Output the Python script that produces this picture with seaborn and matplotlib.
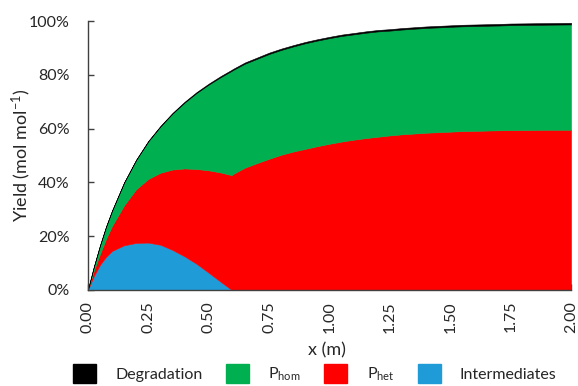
import matplotlib
matplotlib.use("Agg")
import matplotlib.pyplot as plt
import seaborn as sns
import pandas as pd
from matplotlib.ticker import PercentFormatter, MultipleLocator, FormatStrFormatter
from matplotlib.patches import Patch

# Reactor length positions (m)
x_m = [0.00, 0.025, 0.05, 0.075, 0.10, 0.15, 0.20, 0.25, 0.30, 0.35, 0.40, 0.45, 0.50, 0.55, 0.595,
       0.60, 0.65, 0.70, 0.75, 0.80, 0.85, 0.90, 0.95, 1.00, 1.05, 1.10, 1.15, 1.20,
       1.25, 1.30, 1.35, 1.40, 1.45, 1.50, 1.55, 1.60, 1.65, 1.70, 1.75, 1.80, 1.85,
       1.90, 1.95, 2.00]

# Yields (%) of each product group along the reactor
intermediates = [0, 5.2, 9.3, 12.3, 14.5, 16.6, 17.5, 17.6, 16.8, 14.9, 12.5, 9.7, 6.4, 3.0, 0,
                 0, 0, 0, 0, 0, 0, 0, 0, 0, 0, 0, 0, 0,
                 0, 0, 0, 0, 0, 0, 0, 0, 0, 0, 0, 0, 0,
                 0, 0, 0]
p_het = [0, 2.0, 4.0, 6.7, 9.3, 14.9, 20.0, 23.7, 26.8, 29.9, 32.7, 35.3, 38.1, 40.7, 42.7,
         43.1, 45.5, 47.2, 48.8, 50.3, 51.5, 52.5, 53.5, 54.4, 55.2, 55.9, 56.5, 57.0,
         57.5, 57.9, 58.2, 58.5, 58.7, 58.9, 59.1, 59.2, 59.3, 59.4, 59.45, 59.5, 59.55,
         59.6, 59.6, 59.6]
p_hom = [0, 1.5, 3.2, 4.5, 5.7, 8.5, 10.9, 14.0, 17.2, 20.8, 24.5, 28.3, 31.9, 35.5, 38.8,
         38.7, 38.7, 38.8, 39.0, 39.0, 39.1, 39.3, 39.3, 39.3, 39.3, 39.2, 39.2, 39.2,
         39.0, 39.0, 39.0, 39.0, 39.0, 39.0, 39.0, 39.0, 39.0, 39.0, 39.1, 39.1, 39.1,
         39.1, 39.15, 39.2]
degradation = [0, 0, 0, 0, 0, 0, 0.1, 0.15, 0.2, 0.25, 0.3, 0.33, 0.36, 0.4, 0.42,
               0.42, 0.45, 0.47, 0.5, 0.5, 0.5, 0.5, 0.5, 0.5, 0.52, 0.52, 0.53, 0.54,
               0.55, 0.55, 0.56, 0.56, 0.57, 0.57, 0.58, 0.58, 0.58, 0.59, 0.59, 0.59, 0.6,
               0.6, 0.6, 0.6]

series_labels = ["Intermediates", r"P$_{\mathregular{het}}$", r"P$_{\mathregular{hom}}$", "Degradation"]
series_colors = ["#1F9BD7", "#FF0000", "#00B050", "#000000"]
x_ticks = [0.00, 0.25, 0.50, 0.75, 1.00, 1.25, 1.50, 1.75, 2.00]

df = pd.DataFrame({
    "x": x_m,
    "Intermediates": intermediates,
    "P_het": p_het,
    "P_hom": p_hom,
    "Degradation": degradation,
})

sns.set_theme(style="ticks")
plt.rcParams["font.family"] = ["Lato", "DejaVu Sans"]
plt.rcParams["mathtext.fontset"] = "custom"
plt.rcParams["mathtext.rm"] = "Lato"
plt.rcParams["mathtext.default"] = "regular"

text_color = "#262626"
fig = plt.figure(figsize=(5.78, 3.86), dpi=100)
ax = fig.add_axes([0.152, 0.249, 0.836, 0.696])

layers = ax.stackplot(df["x"], df["Intermediates"], df["P_het"], df["P_hom"], df["Degradation"],
                      colors=series_colors, linewidth=0.4)
for poly, col in zip(layers, series_colors):
    poly.set_edgecolor(col)

ax.set_xlim(0, 2)
ax.set_ylim(0, 100)
ax.set_xticks(x_ticks)
ax.xaxis.set_major_formatter(FormatStrFormatter("%.2f"))
ax.yaxis.set_major_locator(MultipleLocator(20))
ax.yaxis.set_major_formatter(PercentFormatter(xmax=100, decimals=0))

sns.despine(ax=ax)
for side in ("left", "bottom"):
    ax.spines[side].set_color("#404040")
    ax.spines[side].set_linewidth(1.0)

ax.tick_params(axis="x", direction="in", length=4, width=1, color="#404040",
               labelsize=11.5, labelcolor=text_color, pad=8, labelrotation=90)
ax.tick_params(axis="y", direction="in", length=4, width=1, color="#404040",
               labelsize=11.5, labelcolor=text_color, pad=13)

ax.set_xlabel("x (m)", fontsize=13, color=text_color)
ax.set_ylabel(r"Yield (mol mol$^{\mathregular{-1}}$)", fontsize=13, color=text_color)
ax.xaxis.set_label_coords(0.495, -0.195)
ax.yaxis.set_label_coords(-0.114, 0.5)

legend_order = [3, 2, 1, 0]
handles = [Patch(facecolor=series_colors[i], edgecolor=series_colors[i]) for i in legend_order]
labels = [series_labels[i] for i in legend_order]
fig.legend(handles, labels, loc="center", bbox_to_anchor=(0.545, 0.032), ncol=4,
           frameon=False, fontsize=11.5, handlelength=1.45, handleheight=1.45,
           handletextpad=1.2, columnspacing=1.45, labelcolor=text_color)

fig.savefig("out.png", dpi=100)
